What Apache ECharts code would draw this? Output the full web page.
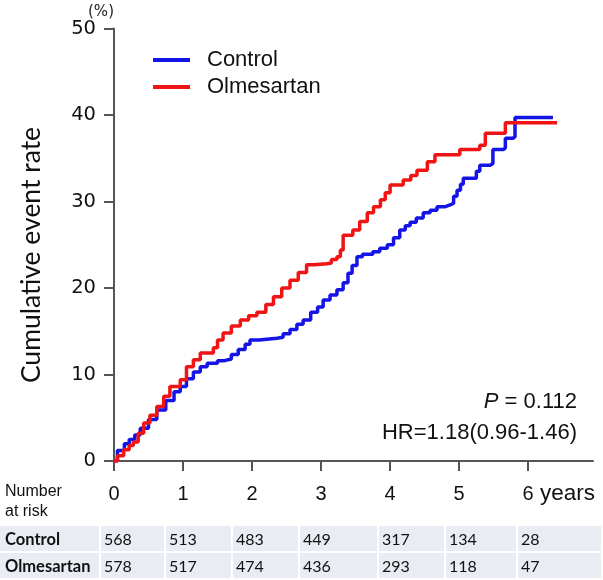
<!DOCTYPE html>
<html><head><meta charset="utf-8">
<script src="https://cdn.jsdelivr.net/npm/echarts@6/dist/echarts.min.js"></script>
<style>html,body{margin:0;padding:0;background:#fff}#c{width:603px;height:580px}</style>
</head><body><div id="c"></div>
<script>
// Data (years, cumulative event rate %)
const controlCurve = [
[0,0],[0.05,1.2],[0.15,2.0],[0.22,2.5],[0.3,3.0],[0.38,3.8],[0.5,4.8],[0.62,5.9],[0.75,7.0],[0.87,8.0],[0.96,8.6],
[1.05,9.5],[1.15,10.3],[1.25,10.9],[1.35,11.3],[1.5,11.6],[1.6,11.8],[1.7,12.3],[1.8,12.9],[1.9,13.5],[1.97,14.0],
[2.1,14.2],[2.36,14.3],[2.45,14.7],[2.55,15.2],[2.65,15.8],[2.74,16.3],[2.85,17.2],[2.95,17.8],[3.03,18.6],[3.13,19.2],
[3.23,19.8],[3.32,20.6],[3.39,21.7],[3.45,22.6],[3.52,23.6],[3.6,23.9],[3.75,24.2],[3.85,24.6],[3.96,25.0],[4.05,25.8],
[4.14,26.7],[4.22,27.2],[4.29,27.6],[4.38,28.1],[4.48,28.7],[4.58,29.0],[4.68,29.4],[4.8,29.6],[4.87,29.8],[4.92,30.6],
[4.97,31.3],[5.02,32.0],[5.06,32.7],[5.2,32.7],[5.25,33.5],[5.3,34.2],[5.45,34.4],[5.49,36.0],[5.64,36.2],[5.67,37.3],
[5.78,37.5],[5.81,39.7],[6.36,39.7]
];
const olmesartanCurve = [
[0,0],[0.05,0.6],[0.14,1.3],[0.22,1.8],[0.28,2.2],[0.35,3.2],[0.43,4.4],[0.52,5.3],[0.62,6.3],[0.72,7.5],[0.81,8.6],
[0.96,9.4],[1.05,10.9],[1.15,11.7],[1.25,12.5],[1.44,13.1],[1.5,14.0],[1.58,14.8],[1.7,15.6],[1.83,16.3],[1.95,16.8],
[2.07,17.2],[2.2,18.1],[2.31,19.0],[2.43,20.0],[2.55,20.9],[2.67,21.8],[2.79,22.7],[2.9,22.8],[3.08,22.9],[3.15,23.3],
[3.23,23.6],[3.28,24.4],[3.32,26.1],[3.46,26.7],[3.56,27.7],[3.67,28.7],[3.76,29.4],[3.86,30.2],[3.93,31.0],[4.0,31.9],
[4.19,32.5],[4.3,33.0],[4.39,33.6],[4.54,34.6],[4.65,35.4],[5.01,36.0],[5.3,36.5],[5.38,37.9],[5.64,37.9],[5.67,39.1],
[6.42,39.1]
];
const seriesNames = ['Control','Olmesartan'];
const xTicks = [0,1,2,3,4,5,6];
const riskControl = [568,513,483,449,317,134,28];
const riskOlmesartan = [578,517,474,436,293,118,47];
const pText = '0.112';
const hrText = 'HR=1.18(0.96-1.46)';

const chart = echarts.init(document.getElementById('c'), null, {renderer:'canvas'});

const colEdges = [101,166,233,300,379,446,518,603];
const rowTops = [526,553];
const rowH = 25;
const cellFill = '#e9ecf3';
const g = [];
const tableRows = [[seriesNames[0], riskControl],[seriesNames[1], riskOlmesartan]];
tableRows.forEach((row, ri) => {
  g.push({type:'rect', shape:{x:0,y:rowTops[ri],width:99,height:rowH}, style:{fill:cellFill}, silent:true});
  g.push({type:'text', x:5, y:rowTops[ri]+rowH/2+1, style:{text:row[0], font:'bold 16.5px Lato', fill:'#111', verticalAlign:'middle'}});
  row[1].forEach((v, ci) => {
    const x0 = colEdges[ci], x1 = colEdges[ci+1];
    g.push({type:'rect', shape:{x:x0,y:rowTops[ri],width:x1-x0-2,height:rowH}, style:{fill:cellFill}, silent:true});
    g.push({type:'text', x:x0+3, y:rowTops[ri]+rowH/2+1, style:{text:String(v), font:'16px Lato', fill:'#111', verticalAlign:'middle'}});
  });
});
g.push({type:'text', x:5, y:492, style:{text:'Number', font:'16px "Liberation Sans"', fill:'#111', verticalAlign:'middle'}});
g.push({type:'text', x:5, y:512, style:{text:'at risk', font:'16px "Liberation Sans"', fill:'#111', verticalAlign:'middle'}});
g.push({type:'text', x:540, y:494, style:{text:'years', font:'22.5px "Liberation Sans"', fill:'#111', verticalAlign:'middle'}});
g.push({type:'text', x:101, y:12, style:{text:'(%)', font:'15px "DejaVu Sans"', fill:'#222', align:'center', verticalAlign:'middle'}});
g.push({type:'text', x:31, y:255, rotation:Math.PI/2, style:{text:'Cumulative event rate', font:'26.5px Lato', fill:'#111', align:'center', verticalAlign:'middle'}});
g.push({type:'text', x:577, y:402, style:{text:'{i|P} = '+pText, rich:{i:{font:'italic 22px "Liberation Sans"', fill:'#111'}}, font:'22px "Liberation Sans"', fill:'#111', align:'right', verticalAlign:'middle'}});
g.push({type:'text', x:577, y:433, style:{text:hrText, font:'22px "Liberation Sans"', fill:'#111', align:'right', verticalAlign:'middle'}});

chart.setOption({
  animation:false,
  grid:{left:114, top:28.5, right:10, bottom:119, containLabel:false},
  legend:{orient:'vertical', left:148, top:44, icon:'rect', itemWidth:37, itemHeight:4, itemGap:5,
    data:seriesNames, textStyle:{fontFamily:'Liberation Sans', fontSize:22, color:'#111', padding:[0,0,0,12], lineHeight:22}},
  xAxis:{type:'value', min:0, max:6.94,
    axisLine:{lineStyle:{color:'#555', width:2}},
    axisTick:{show:true, length:10, customValues:xTicks, lineStyle:{color:'#555', width:2}},
    axisLabel:{customValues:xTicks, margin:23, fontFamily:'Liberation Sans', fontSize:20, color:'#111'},
    splitLine:{show:false}},
  yAxis:{type:'value', min:0, max:50, interval:10,
    axisLine:{show:true, lineStyle:{color:'#555', width:2}},
    axisTick:{show:true, length:10, lineStyle:{color:'#555', width:2}},
    axisLabel:{margin:18, fontFamily:'DejaVu Sans', fontSize:19.5, color:'#111'},
    splitLine:{show:false}},
  series:[
    {name:seriesNames[0], type:'line', step:'end', symbol:'none', data:controlCurve, lineStyle:{color:'#1414e6', width:3.5}, itemStyle:{color:'#1414e6'}, z:3},
    {name:seriesNames[1], type:'line', step:'end', symbol:'none', data:olmesartanCurve, lineStyle:{color:'#f01414', width:3.5}, itemStyle:{color:'#f01414'}, z:4}
  ],
  graphic:g
});
</script></body></html>
